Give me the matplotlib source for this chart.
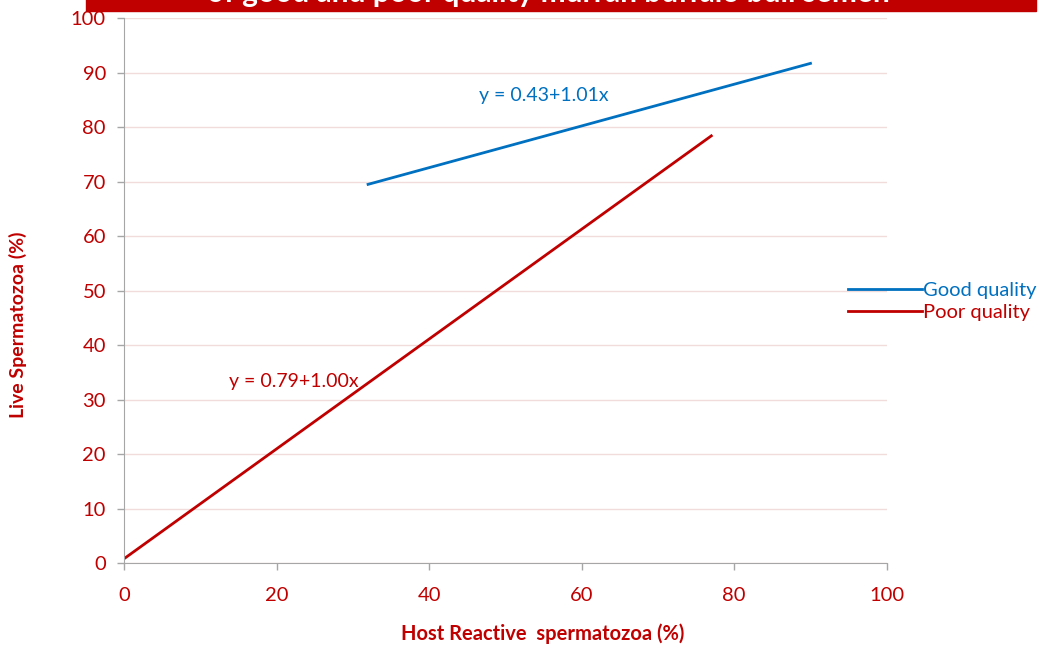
import matplotlib.pyplot as plt
from matplotlib.patches import Rectangle

# fitted regression lines (endpoints of each fitted range)
good_x = [32, 90]
good_y = [69.5, 91.7]
poor_x = [0, 77]
poor_y = [0.8, 78.4]

good_eq = "y = 0.43+1.01x"
poor_eq = "y = 0.79+1.00x"

RED = "#C00000"
BLUE = "#0070C0"

plt.rcParams['font.family'] = ['Lato', 'DejaVu Sans']

fig = plt.figure(figsize=(10.42, 6.48), dpi=100)
ax = fig.add_axes([0.119, 0.131, 0.732, 0.841])

ax.plot(good_x, good_y, color=BLUE, lw=2, label="Good quality")
ax.plot(poor_x, poor_y, color=RED, lw=2, label="Poor quality")

ax.text(46.5, 84.8, good_eq, color=BLUE, fontsize=14)
ax.text(13.8, 32.3, poor_eq, color=RED, fontsize=14)

ax.set_xlim(0, 100)
ax.set_ylim(0, 100)
ax.set_xticks(range(0, 101, 20))
ax.set_yticks(range(0, 101, 10))
ax.grid(axis='y', color="#F2DCDB", lw=1)
ax.set_axisbelow(True)
for s in ["top", "right"]:
    ax.spines[s].set_visible(False)
for s in ["left", "bottom"]:
    ax.spines[s].set_color("#A6A6A6")
ax.tick_params(colors="#A6A6A6", labelcolor=RED, labelsize=14.5, length=5, width=1)
ax.tick_params(axis='x', pad=12)
ax.tick_params(axis='y', pad=8)

# axis titles placed on the figure
fig.text(543 / 1042, 1 - 634 / 648, "Host Reactive  spermatozoa (%)", color=RED,
         fontsize=14.5, fontweight="bold", ha="center", va="center")
fig.text(18 / 1042, 1 - 325 / 648, "Live Spermatozoa (%)", color=RED,
         fontsize=14, fontweight="bold", ha="center", va="center", rotation=90)

leg = ax.legend(loc="center left", bbox_to_anchor=(0.925, 0.48), frameon=False,
                fontsize=14.5, handlelength=3.7, handletextpad=0.05, labelspacing=0.25)
for txt, c in zip(leg.get_texts(), [BLUE, RED]):
    txt.set_color(c)

# title banner running off the top edge
fig.patches.append(Rectangle((86 / 1042, 1 - 11 / 648), 950 / 1042, 0.05,
                             transform=fig.transFigure, color=RED, zorder=0))
fig.text(0.526, 1 - 7 / 648, "of good and poor quality murrah buffalo bull semen",
         ha="center", va="bottom", color="white", fontsize=21.5, fontweight="bold")

fig.savefig("out.png", dpi=100)
